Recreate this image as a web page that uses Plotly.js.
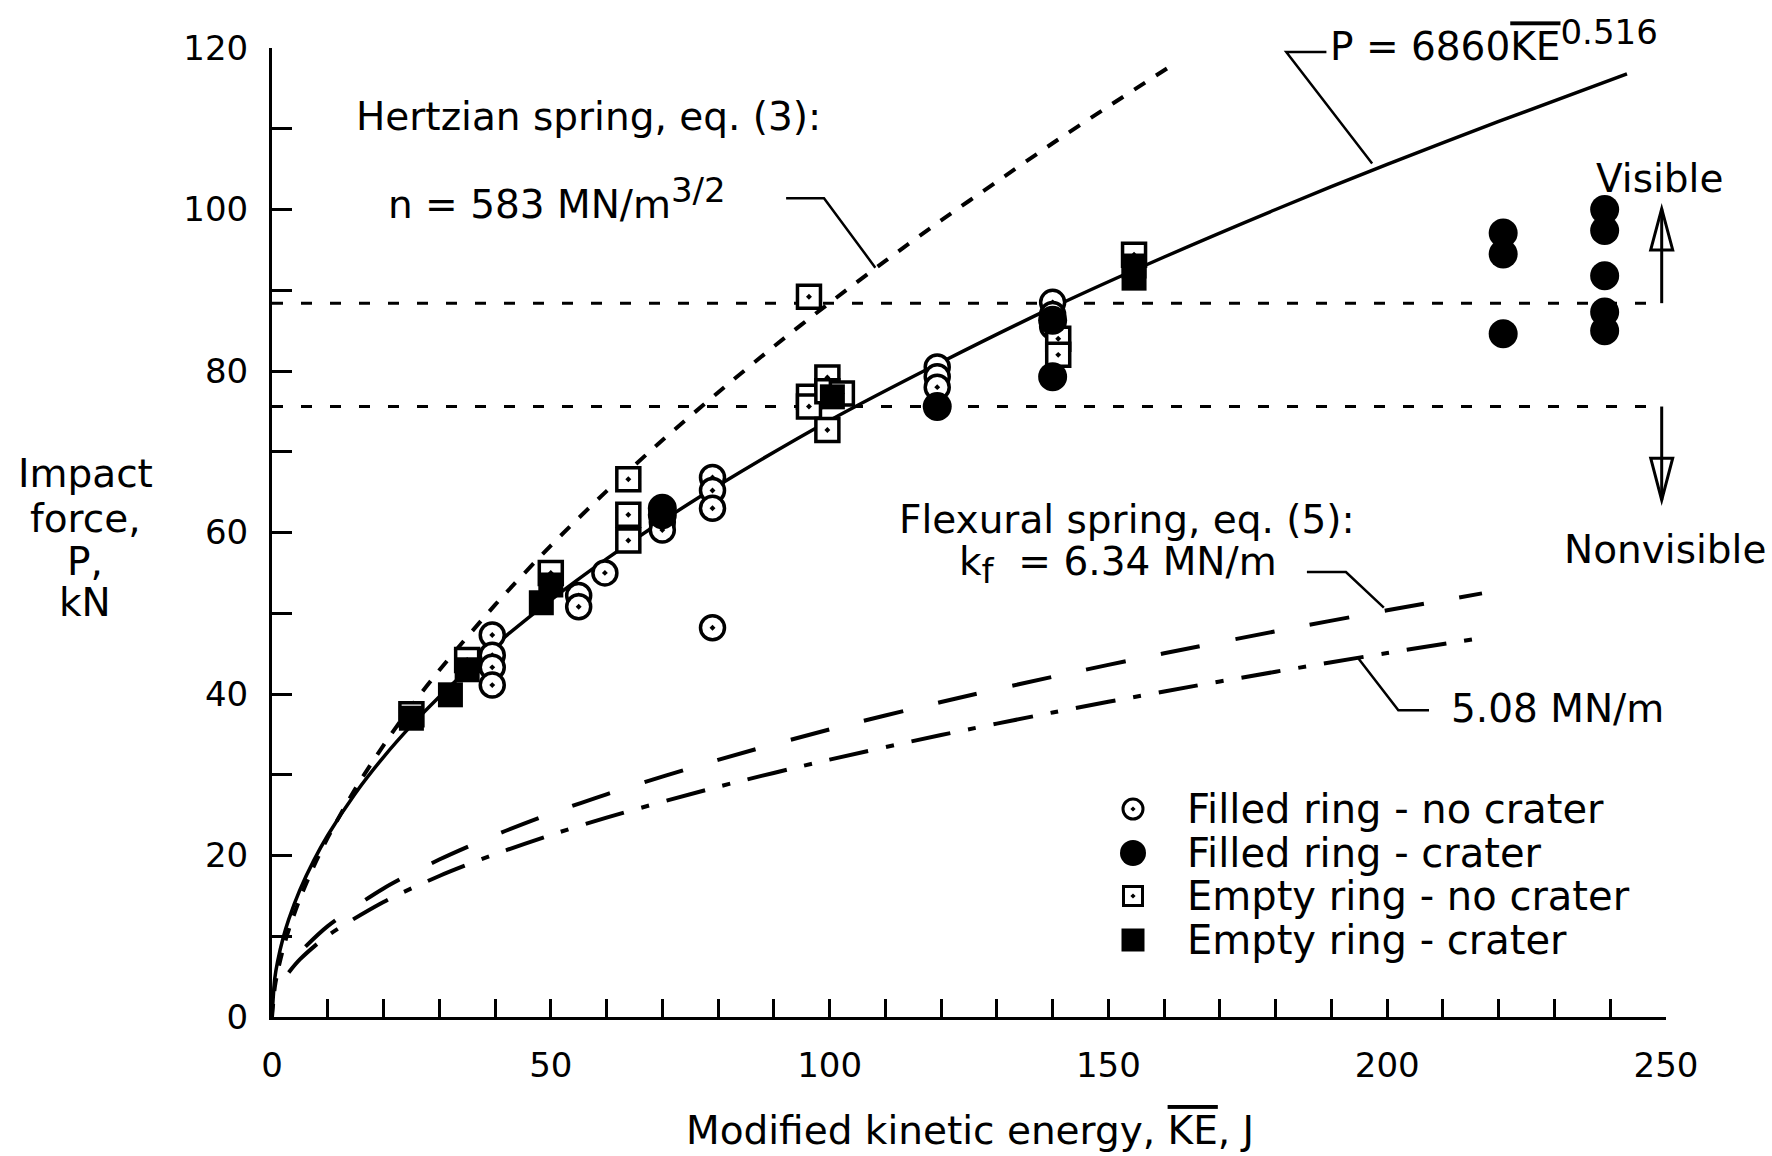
<!DOCTYPE html>
<html><head><meta charset="utf-8">
<script src="https://cdn.plot.ly/plotly-3.0.1.min.js"></script>
<style>html,body{margin:0;padding:0;background:#fff}</style>
</head><body><div id="chart" style="width:1772px;height:1156px"></div>
<script>
// ---------- data ----------
const fitKE  = [0,0.5,1,2,3,5,7.5,10,15,20,25,30,40,50,60,70,80,100,120,140,160,180,200,220,243];
const fitP   = [0,4.80,6.86,9.81,12.09,15.74,19.40,22.51,27.75,32.19,36.11,39.67,46.03,51.64,56.73,61.43,65.82,73.88,81.09,87.88,94.12,100.0,105.6,110.9,116.8];
const hertzKE = [0,0.5,1,2,3,5,7.5,10,15,20,25,30,40,50,60,70,80,90,100,110,120,130,140,150,162];
const hertzP  = [0,3.68,5.58,8.46,10.79,14.66,18.69,22.21,28.33,33.65,38.50,42.94,51.03,58.37,65.12,71.42,77.34,83.03,88.44,93.63,98.65,103.45,108.20,112.77,118.13];
const flex634KE = [6,10,20,30,40,50,60,80,100,120,140,160,180,200,217];
const flex634P  = [8.72,11.26,15.92,19.50,22.52,25.18,27.58,31.85,35.61,39.01,42.13,45.04,47.77,50.36,52.46];
const flex508KE = [3,5,10,20,30,40,50,60,80,100,120,140,160,180,200,216];
const flex508P  = [5.52,7.13,10.08,14.25,17.46,20.16,22.54,24.69,28.51,31.87,34.92,37.71,40.32,42.76,45.08,46.85];
const thresholdP = [88.4, 75.6];
const thresholdKE = [0, 247.7];

const filledNoCraterKE = [39.5,39.5,39.5,39.5,55,55,59.7,70,70,79,79,79,79,119.3,119.3,119.3,140,140,140];
const filledNoCraterP  = [47.3,44.8,43.3,41.1,52.2,50.8,55.0,61.3,60.3,66.8,65.2,63.0,48.2,80.5,79.3,78.0,88.5,87.0,85.5];
const filledCraterKE = [70,70,119.3,140,140,220.8,220.8,220.8,239,239,239,239,239];
const filledCraterP  = [63.0,62.2,75.6,86.3,79.3,97.1,94.5,84.6,100.0,97.4,91.8,87.3,85.0];
const emptyNoCraterKE = [25,35,50,63.9,63.9,63.9,96.3,96.3,96.3,99.6,99.6,102.2,99.6,141,141,154.6];
const emptyNoCraterP  = [37.5,44.2,55.0,66.6,62.2,59.0,89.2,76.8,75.6,79.2,77.5,77.2,72.7,84.0,82.0,94.4];
const emptyCraterKE = [25,32,35,48.3,50,100.5,154.6,154.6];
const emptyCraterP  = [37.0,39.9,43.0,51.3,53.5,76.8,93.0,91.5];

const legendLabels = ['Filled ring - no crater','Filled ring - crater','Empty ring - no crater','Empty ring - crater'];
const xTickVals = [0,50,100,150,200,250];
const yTickVals = [0,20,40,60,80,100,120];

// ---------- layout helpers ----------
const FONT = 'DejaVu Sans';
const L = 272, R = 1666, T = 48, B = 1017;
const px = x => (x - L) / (R - L);
const py = y => (B - y) / (B - T);

const traces = [];
function lineTrace(x, y, dash, width) {
  return {x, y, type:'scatter', mode:'lines', hoverinfo:'skip', showlegend:false,
    line:{color:'#000', width, dash, shape:'spline', smoothing:0.8}};
}
traces.push(lineTrace(hertzKE, hertzP, '13px,13px', 4));
traces.push(lineTrace(flex634KE, flex634P, '40px,36px', 4));
traces.push(lineTrace(flex508KE, flex508P, '40px,18px,8px,18px', 4));
traces.push(lineTrace(fitKE, fitP, 'solid', 3.5));
thresholdP.forEach(p => {
  traces.push({x: thresholdKE, y:[p,p], type:'scatter', mode:'lines', hoverinfo:'skip', showlegend:false,
    line:{color:'#000', width:3, dash:'11px,18px'}});
});

function markerTrace(x, y, symbol, size, fill, lw) {
  return {x, y, type:'scatter', mode:'markers', cliponaxis:false, hoverinfo:'skip', showlegend:false,
    marker:{symbol, size, color:fill, opacity:1, line:{color:'#000', width:lw}}};
}
traces.push(markerTrace(filledNoCraterKE, filledNoCraterP, 'circle-dot', 24, '#fff', 3.5));
traces.push(markerTrace(emptyNoCraterKE, emptyNoCraterP, 'square-dot', 23, '#fff', 3.5));
traces.push(markerTrace(filledCraterKE, filledCraterP, 'circle', 29, '#000', 0));
traces.push(markerTrace(emptyCraterKE, emptyCraterP, 'square', 25, '#000', 0));

// legend symbols (overlay axes in 0..1 units)
const legRowsY = [809, 853, 896, 940];
traces.push({x: legRowsY.map(() => px(1133)), y: legRowsY.map(py), xaxis:'x2', yaxis:'y2',
  type:'scatter', mode:'markers', cliponaxis:false, hoverinfo:'skip', showlegend:false,
  marker:{symbol:['circle-dot','circle','square-dot','square'], size:[20,26,19,23], opacity:1,
    color:['#fff','#000','#fff','#000'], line:{color:'#000', width:[3,0,3,0]}}});

const txt = (text, x, y, size, xanchor) => ({text, x, y, xref:'paper', yref:'paper', showarrow:false,
  xanchor: xanchor || 'left', yanchor:'middle', font:{family:FONT, size: size || 39, color:'#000'}});

const ov = s => "<span style='text-decoration:overline'>" + s + "</span>";
const big = s => "<span style='font-size:34px'>" + s + "</span>";
const annotations = [
  txt('Hertzian spring, eq. (3):', px(354), py(116)),
  txt('n = 583 MN/m<sup>' + big('3/2') + '</sup>', px(386), py(198)),
  txt('P = 6860' + ov('KE') + '<sup>' + big('0.516') + '</sup>', px(1328), py(40)),
  txt('Visible', px(1594), py(178)),
  txt('Nonvisible', px(1562), py(549)),
  txt('Flexural spring, eq. (5):', px(897), py(519)),
  txt('k<sub>' + big('f') + '</sub>  = 6.34 MN/m', px(957), py(565)),
  txt('5.08 MN/m', px(1449), py(708)),
  txt('Impact', px(85), py(473), 39, 'center'),
  txt('force,', px(85), py(518), 39, 'center'),
  txt('P,', px(85), py(561), 39, 'center'),
  txt('kN', px(85), py(602), 39, 'center'),
  txt('Modified kinetic energy, ' + ov('KE') + ', J', px(970), py(1130), 39, 'center')
];
legendLabels.forEach((s, i) => annotations.push(txt(s, px(1185), py(legRowsY[i]), 40)));

// leaders (data coordinates) and arrows (paper coordinates)
const lineStyle = {color:'#000', width:2.5};
const shapes = [
  {type:'path', xref:'x', yref:'y', path:'M 92.2,101.4 L 99.0,101.4 L 108.2,92.8', line:lineStyle},
  {type:'path', xref:'x', yref:'y', path:'M 189.1,119.5 L 181.9,119.5 L 197.3,105.7', line:lineStyle},
  {type:'path', xref:'x', yref:'y', path:'M 185.6,55.1 L 192.6,55.1 L 199.4,50.7', line:lineStyle},
  {type:'path', xref:'x', yref:'y', path:'M 194.6,44.6 L 202.0,38.0 L 207.5,38.0', line:lineStyle}
];
const ax = px(1661.7), hw = 11 / (R - L);
const yp = v => v / 120;
const arrowLine = {color:'#000', width:3};
shapes.push({type:'path', xref:'paper', yref:'paper', path:`M ${ax},${yp(88.4)} L ${ax},${yp(100.1)}`, line:arrowLine});
shapes.push({type:'path', xref:'paper', yref:'paper', path:`M ${ax-hw},${yp(95.0)} L ${ax},${yp(100.1)} L ${ax+hw},${yp(95.0)} Z`, line:arrowLine});
shapes.push({type:'path', xref:'paper', yref:'paper', path:`M ${ax},${yp(75.6)} L ${ax},${yp(64.0)}`, line:arrowLine});
shapes.push({type:'path', xref:'paper', yref:'paper', path:`M ${ax-hw},${yp(69.2)} L ${ax},${yp(64.0)} L ${ax+hw},${yp(69.2)} Z`, line:arrowLine});

const axisCommon = {showgrid:false, zeroline:false, showline:true, linecolor:'#000', linewidth:3,
  ticks:'inside', tickwidth:3, tickcolor:'#000', fixedrange:true,
  tickfont:{family:FONT, size:34, color:'#000'}};

const layout = {
  width:1772, height:1156, paper_bgcolor:'#fff', plot_bgcolor:'#fff', showlegend:false, hovermode:false,
  margin:{l:L, r:1772-R, t:T, b:1156-B},
  font:{family:FONT, color:'#000'},
  xaxis:Object.assign({}, axisCommon, {range:[0,250], tickvals:xTickVals, ticklen:18, ticklabelstandoff:16,
    minor:{dtick:10, tick0:0, ticks:'inside', ticklen:18, tickwidth:3, tickcolor:'#000'}}),
  yaxis:Object.assign({}, axisCommon, {range:[0,120], tickvals:yTickVals, ticklen:20, ticklabelstandoff:14,
    minor:{dtick:10, tick0:0, ticks:'inside', ticklen:20, tickwidth:3, tickcolor:'#000'}}),
  xaxis2:{overlaying:'x', range:[0,1], visible:false, fixedrange:true},
  yaxis2:{overlaying:'y', range:[0,1], visible:false, fixedrange:true, anchor:'x2'},
  annotations, shapes
};

Plotly.newPlot('chart', traces, layout, {staticPlot:true, displayModeBar:false});
</script></body></html>
